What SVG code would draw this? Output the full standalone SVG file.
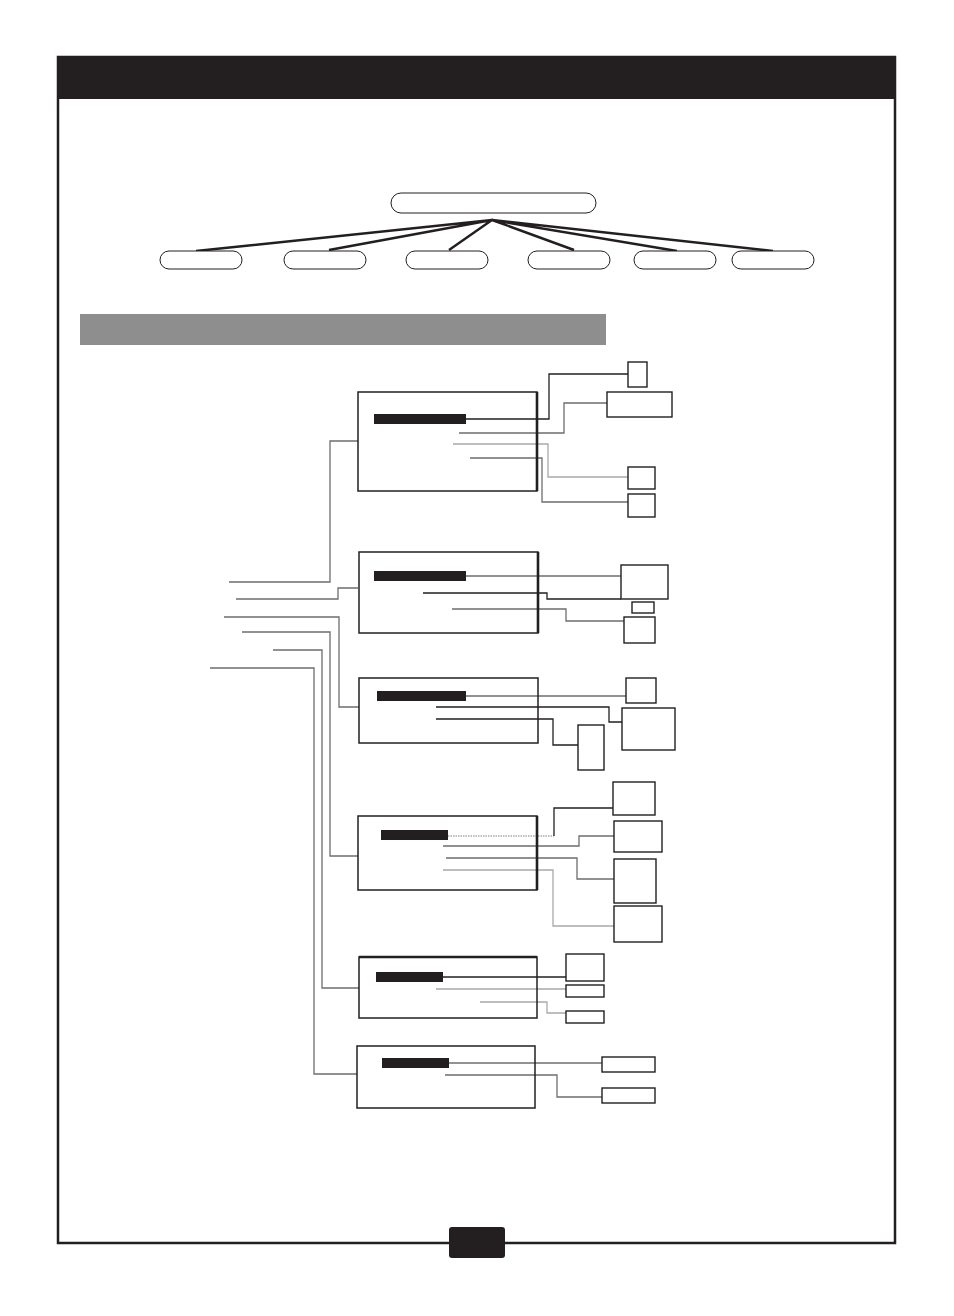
<svg xmlns="http://www.w3.org/2000/svg" width="954" height="1316" viewBox="0 0 954 1316">
<style>
.frame{fill:none;stroke:#231f20;stroke-width:2.5}
.oval{fill:#fff;stroke:#231f20;stroke-width:1}
.tree{stroke:#231f20;stroke-width:2.4;fill:none}
.box{fill:none;stroke:#231f20;stroke-width:1.5}
.thick{stroke:#231f20;stroke-width:2.6;fill:none}
.bar{fill:#231f20}
.sb{fill:#fff;stroke:#231f20;stroke-width:1.4}
.dk{fill:none;stroke:#231f20;stroke-width:1.3}
.md{fill:none;stroke:#6d6e71;stroke-width:1.3}
.lt{fill:none;stroke:#a7a9ac;stroke-width:1.3}
.dot{fill:none;stroke:#a7a9ac;stroke-width:1.3;stroke-dasharray:1.5 1}
</style>
<rect x="0" y="0" width="954" height="1316" fill="#fff"/>
<g id="frame">
<rect class="frame" x="58" y="57" width="837" height="1186"/>
<rect x="57" y="57" width="838" height="42" fill="#231f20"/>
<rect x="449" y="1227" width="56" height="31" rx="3" fill="#231f20"/>
</g>
<g id="tree-connectors">
<path class="tree" d="M492 220 L196 251 M492 220 L329 250 M492 220 L449 250 M492 220 L574 250 M492 220 L677 251 M492 220 L773 251"/>
</g>
<g id="root"><rect class="oval" x="391" y="193" width="205" height="20" rx="10"/></g>
<g id="child1"><rect class="oval" x="160" y="251" width="82" height="18" rx="9"/></g>
<g id="child2"><rect class="oval" x="284" y="251" width="82" height="18" rx="9"/></g>
<g id="child3"><rect class="oval" x="406" y="251" width="82" height="18" rx="9"/></g>
<g id="child4"><rect class="oval" x="528" y="251" width="82" height="18" rx="9"/></g>
<g id="child5"><rect class="oval" x="634" y="251" width="82" height="18" rx="9"/></g>
<g id="child6"><rect class="oval" x="732" y="251" width="82" height="18" rx="9"/></g>
<g id="section-bar"><rect x="80" y="314" width="526" height="31" fill="#8f8e8e"/></g>

<g id="connectors">
<!-- feeders -->
<path class="md" d="M229 582 H330 V441 H358"/>
<path class="md" d="M236 599 H338 V588 H358"/>
<path class="md" d="M224 617 H339 V707 H359"/>
<path class="md" d="M242 632 H330 V856 H358"/>
<path class="md" d="M273 650 H322 V988 H359"/>
<path class="md" d="M210 668 H314 V1074 H357"/>
<!-- box1 -->
<path class="dk" d="M466 419 H549 V374 H628"/>
<path class="md" d="M459 433 H564 V403 H607"/>
<path class="lt" d="M453 444 H548 V477 H628"/>
<path class="md" d="M470 458 H542 V502 H628"/>
<!-- box2 -->
<path class="md" d="M466 576 H621"/>
<path class="dk" d="M423 593 H547 V599 H621"/>
<path class="md" d="M452 609 H566 V621 H624"/>
<!-- box3 -->
<path class="md" d="M466 696 H626"/>
<path class="dk" d="M436 707 H609 V722 H622"/>
<path class="dk" d="M436 719 H553 V745 H578"/>
<!-- box4 -->
<path class="dot" d="M448 836 H554"/>
<path class="dk" d="M554 836 V808 H613"/>
<path class="md" d="M443 846 H579 V836 H614"/>
<path class="md" d="M446 858 H577 V879 H614"/>
<path class="lt" d="M443 870 H553 V926 H614"/>
<!-- box5 -->
<path class="dk" d="M443 977 H566"/>
<path class="lt" d="M436 989 H566"/>
<path class="lt" d="M480 1002 H547 V1013 H566"/>
<!-- box6 -->
<path class="md" d="M449 1063 H602"/>
<path class="md" d="M445 1075 H557 V1097 H602"/>
</g>

<g id="node1">
<rect class="box" x="358" y="392" width="179" height="99"/>
<line class="thick" x1="537" y1="392" x2="537" y2="491"/>
<rect class="bar" x="374" y="414" width="92" height="10"/>
</g>
<g id="node1a"><rect class="sb" x="628" y="362" width="19" height="25"/></g>
<g id="node1b"><rect class="sb" x="607" y="392" width="65" height="25" stroke-width="2"/></g>
<g id="node1c"><rect class="sb" x="628" y="467" width="27" height="22"/></g>
<g id="node1d"><rect class="sb" x="628" y="494" width="27" height="23"/></g>

<g id="node2">
<rect class="box" x="359" y="552" width="179" height="81"/>
<line class="thick" x1="538" y1="552" x2="538" y2="633"/>
<rect class="bar" x="374" y="571" width="92" height="10"/>
</g>
<g id="node2a"><rect class="sb" x="621" y="565" width="47" height="34"/></g>
<g id="node2b"><rect class="sb" x="632" y="602" width="22" height="11"/></g>
<g id="node2c"><rect class="sb" x="624" y="617" width="31" height="26"/></g>

<g id="node3">
<rect class="box" x="359" y="678" width="179" height="65"/>
<rect class="bar" x="377" y="691" width="89" height="10"/>
</g>
<g id="node3a"><rect class="sb" x="626" y="678" width="30" height="25"/></g>
<g id="node3b"><rect class="sb" x="622" y="708" width="53" height="42"/></g>
<g id="node3c"><rect class="sb" x="578" y="725" width="26" height="45"/></g>

<g id="node4">
<rect class="box" x="358" y="816" width="179" height="74"/>
<line class="thick" x1="537" y1="816" x2="537" y2="890"/>
<rect class="bar" x="381" y="830" width="67" height="10"/>
</g>
<g id="node4a"><rect class="sb" x="613" y="782" width="42" height="33"/></g>
<g id="node4b"><rect class="sb" x="614" y="821" width="48" height="31"/></g>
<g id="node4c"><rect class="sb" x="614" y="859" width="42" height="44"/></g>
<g id="node4d"><rect class="sb" x="614" y="906" width="48" height="36"/></g>

<g id="node5">
<rect class="box" x="359" y="957" width="178" height="61"/>
<line class="thick" x1="359" y1="957" x2="537" y2="957"/>
<rect class="bar" x="376" y="972" width="67" height="10"/>
</g>
<g id="node5a"><rect class="sb" x="566" y="954" width="38" height="27"/></g>
<g id="node5b"><rect class="sb" x="566" y="985" width="38" height="12"/></g>
<g id="node5c"><rect class="sb" x="566" y="1011" width="38" height="12"/></g>

<g id="node6">
<rect class="box" x="357" y="1046" width="178" height="62"/>
<rect class="bar" x="382" y="1058" width="67" height="10"/>
</g>
<g id="node6a"><rect class="sb" x="602" y="1057" width="53" height="15"/></g>
<g id="node6b"><rect class="sb" x="602" y="1088" width="53" height="15"/></g>
</svg>
